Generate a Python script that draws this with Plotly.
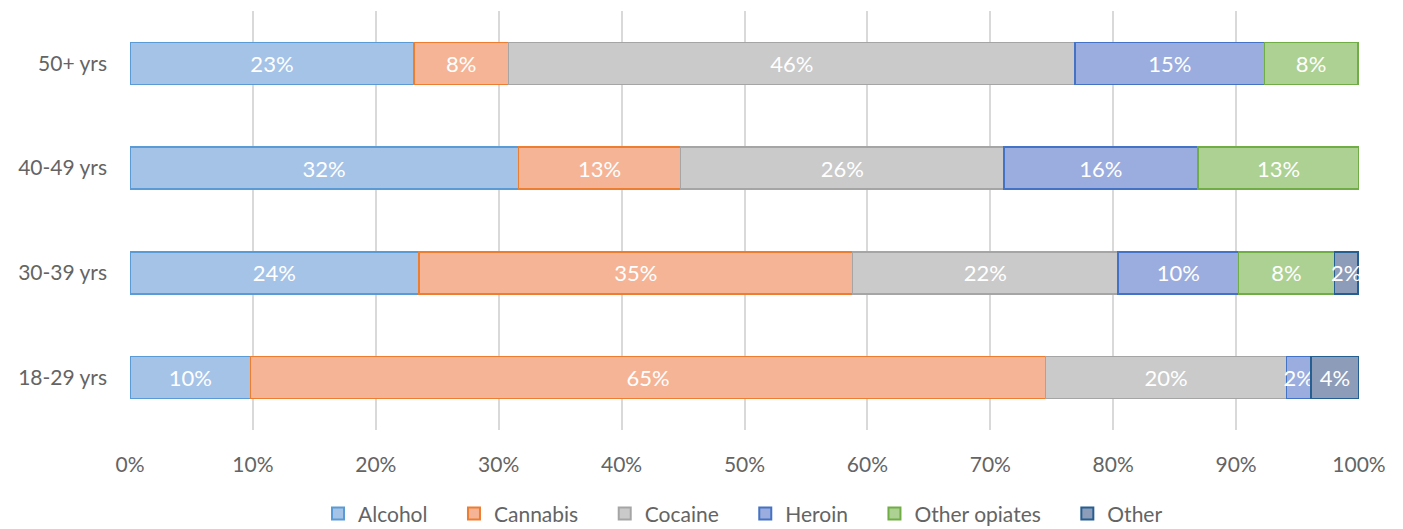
import plotly.graph_objects as go

categories = ["18-29 yrs", "30-39 yrs", "40-49 yrs", "50+ yrs"]
series_names = ["Alcohol", "Cannabis", "Cocaine", "Heroin", "Other opiates", "Other"]
alcohol = [9.8, 23.5, 31.6, 23.1]
cannabis = [64.7, 35.3, 13.2, 7.7]
cocaine = [19.6, 21.6, 26.3, 46.1]
heroin = [2.0, 9.8, 15.8, 15.4]
other_opiates = [None, 7.8, 13.1, 7.6]
other = [3.9, 1.9, None, None]
x_ticks = [0, 10, 20, 30, 40, 50, 60, 70, 80, 90, 100]

series_values = [alcohol, cannabis, cocaine, heroin, other_opiates, other]
fills = ["#a5c3e7", "#f5b496", "#cacaca", "#9badde", "#acd193", "#8d9cb8"]
borders = ["#5b9bd5", "#ed7d31", "#a5a5a5", "#4472c4", "#70ad47", "#255e91"]

FONT = "Lato"
PAD = "\u00a0" * 4
fig = go.Figure()
for i, (name, vals, fc, bc) in enumerate(zip(series_names, series_values, fills, borders)):
    fig.add_trace(go.Bar(
        y=categories, x=vals,
        name=name + (PAD if i < len(series_names) - 1 else ""),
        orientation="h",
        marker=dict(color=fc, line=dict(color=bc, width=1.5)),
        text=[f"{round(v)}%" if v else "" for v in vals],
        textposition="inside", insidetextanchor="middle", textangle=0,
        textfont=dict(color="white", size=22, family=FONT),
        constraintext="none", cliponaxis=False,
    ))

fig.update_layout(
    barmode="stack", bargap=0.6,
    width=1403, height=529,
    margin=dict(l=130, r=44, t=11, b=99, autoexpand=False),
    plot_bgcolor="white", paper_bgcolor="white",
    font=dict(family=FONT, color="#646464", size=21),
    uniformtext=dict(minsize=22, mode="show"),
    xaxis=dict(range=[0, 100], tickvals=x_ticks, ticktext=[f"{t}%" for t in x_ticks],
               showgrid=True, gridcolor="#d9d9d9", gridwidth=1.5, zeroline=False,
               showline=False, ticks="", ticklabelstandoff=20,
               tickfont=dict(size=21, color="#646464")),
    yaxis=dict(categoryorder="array", categoryarray=categories, showgrid=False,
               showline=False, ticks="", ticklabelstandoff=22,
               tickfont=dict(size=21, color="#646464")),
    legend=dict(orientation="h", x=(318 - 130) / 1229, xanchor="left", y=-0.2, yanchor="middle",
                traceorder="normal", font=dict(size=21, color="#646464"),
                itemwidth=30, itemsizing="constant"),
    showlegend=True,
)

fig.write_html("out.html")
